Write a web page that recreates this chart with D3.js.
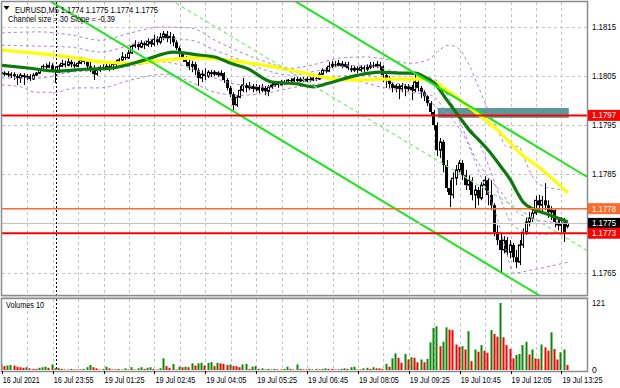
<!DOCTYPE html>
<html><head><meta charset="utf-8">
<script src="https://cdn.jsdelivr.net/npm/d3@7"></script>
<style>html,body{margin:0;padding:0;background:#fff;}svg{display:block;}</style>
</head><body>
<svg id="chart" width="620" height="388"></svg>
<script>
// ================= DATA =================
const symbol = "EURUSD,M5";
const headerValues = ["1.1774", "1.1775", "1.1774", "1.1775"];
const channelInfo = "Channel size = 30 Slope = -0.39";
const volumeTitle = "Volumes 10";
const timeLabels = ["16 Jul 2021","16 Jul 23:55","19 Jul 01:25","19 Jul 02:45","19 Jul 04:05","19 Jul 05:25","19 Jul 06:45","19 Jul 08:05","19 Jul 09:25","19 Jul 10:45","19 Jul 12:05","19 Jul 13:25"];
const timeLabelBars = [0,16,32,48,64,80,96,112,128,144,160,176];
const gridBarStep = 8;
const separatorBar = 17;
const priceTicks = [1.1815, 1.1805, 1.1795, 1.1785, 1.1765];
const gridPrices = [1.1815, 1.1805, 1.1795, 1.1785, 1.1775, 1.1765];
const volumeTicks = [121, 0];

const open = [
1.18058,1.18054,1.18056,1.18052,1.18054,1.18050,1.18046,1.18052,1.18048,1.18050,
1.18044,1.18052,1.18056,1.18062,1.18070,1.18068,1.18072,1.18062,1.18058,1.18070,
1.18076,1.18072,1.18079,1.18074,1.18070,1.18076,1.18083,1.18079,1.18070,1.18066,
1.18054,1.18062,1.18068,1.18066,1.18070,1.18066,1.18074,1.18076,1.18083,1.18089,
1.18087,1.18097,1.18111,1.18115,1.18109,1.18117,1.18113,1.18121,1.18115,1.18125,
1.18119,1.18129,1.18136,1.18127,1.18131,1.18119,1.18107,1.18095,1.18087,1.18079,
1.18070,1.18074,1.18062,1.18046,1.18054,1.18050,1.18058,1.18054,1.18058,1.18052,
1.18056,1.18042,1.18026,1.18013,1.17991,1.18007,1.18021,1.18032,1.18026,1.18030,
1.18024,1.18028,1.18021,1.18026,1.18019,1.18028,1.18032,1.18036,1.18032,1.18038,
1.18036,1.18042,1.18040,1.18044,1.18040,1.18044,1.18040,1.18044,1.18042,1.18046,
1.18044,1.18054,1.18062,1.18060,1.18070,1.18074,1.18072,1.18076,1.18070,1.18074,
1.18066,1.18062,1.18066,1.18062,1.18068,1.18064,1.18068,1.18072,1.18070,1.18074,
1.18070,1.18052,1.18046,1.18034,1.18026,1.18030,1.18024,1.18030,1.18024,1.18028,
1.18021,1.18038,1.18026,1.18017,1.18009,1.17995,1.17977,1.17950,1.17899,1.17916,
1.17869,1.17822,1.17808,1.17842,1.17859,1.17873,1.17848,1.17828,1.17838,1.17808,
1.17818,1.17801,1.17828,1.17838,1.17808,1.17787,1.17732,1.17716,1.17696,1.17716,
1.17691,1.17706,1.17681,1.17671,1.17706,1.17732,1.17753,1.17761,1.17771,1.17797,
1.17787,1.17797,1.17787,1.17773,1.17777,1.17753,1.17746,1.17757,1.17744];
const high = [
1.18062,1.18060,1.18060,1.18058,1.18058,1.18054,1.18056,1.18056,1.18054,1.18054,
1.18056,1.18058,1.18066,1.18074,1.18076,1.18079,1.18076,1.18070,1.18074,1.18083,
1.18081,1.18087,1.18083,1.18079,1.18081,1.18089,1.18087,1.18083,1.18079,1.18072,
1.18066,1.18072,1.18074,1.18076,1.18074,1.18079,1.18083,1.18087,1.18099,1.18095,
1.18103,1.18115,1.18123,1.18119,1.18123,1.18121,1.18127,1.18125,1.18134,1.18131,
1.18138,1.18142,1.18142,1.18140,1.18136,1.18123,1.18111,1.18099,1.18091,1.18083,
1.18081,1.18079,1.18066,1.18062,1.18066,1.18062,1.18062,1.18062,1.18060,1.18062,
1.18058,1.18046,1.18030,1.18017,1.18011,1.18030,1.18046,1.18036,1.18038,1.18034,
1.18034,1.18032,1.18034,1.18030,1.18032,1.18038,1.18040,1.18040,1.18042,1.18042,
1.18044,1.18046,1.18048,1.18048,1.18048,1.18048,1.18048,1.18048,1.18050,1.18050,
1.18058,1.18066,1.18068,1.18079,1.18081,1.18081,1.18083,1.18081,1.18079,1.18079,
1.18072,1.18070,1.18070,1.18072,1.18072,1.18074,1.18079,1.18079,1.18081,1.18079,
1.18072,1.18058,1.18050,1.18038,1.18034,1.18034,1.18036,1.18034,1.18034,1.18032,
1.18054,1.18042,1.18030,1.18021,1.18011,1.17999,1.17981,1.17956,1.17924,1.17920,
1.17879,1.17838,1.17854,1.17869,1.17879,1.17879,1.17859,1.17848,1.17844,1.17828,
1.17824,1.17834,1.17846,1.17842,1.17838,1.17791,1.17746,1.17732,1.17724,1.17722,
1.17716,1.17710,1.17696,1.17716,1.17740,1.17761,1.17773,1.17781,1.17806,1.17808,
1.17806,1.17832,1.17797,1.17785,1.17781,1.17761,1.17763,1.17761,1.17752];
const low = [
1.18050,1.18050,1.18048,1.18046,1.18042,1.18032,1.18036,1.18032,1.18042,1.18040,
1.18042,1.18050,1.18054,1.18060,1.18064,1.18066,1.18058,1.18036,1.18056,1.18068,
1.18068,1.18070,1.18068,1.18066,1.18068,1.18074,1.18074,1.18066,1.18058,1.18042,
1.18050,1.18058,1.18062,1.18062,1.18060,1.18062,1.18070,1.18074,1.18081,1.18083,
1.18085,1.18095,1.18107,1.18103,1.18107,1.18105,1.18109,1.18109,1.18111,1.18113,
1.18115,1.18123,1.18119,1.18115,1.18111,1.18103,1.18089,1.18079,1.18070,1.18062,
1.18058,1.18052,1.18030,1.18038,1.18042,1.18046,1.18048,1.18050,1.18048,1.18050,
1.18036,1.18021,1.18007,1.17981,1.17987,1.18005,1.18017,1.18017,1.18021,1.18017,
1.18019,1.18015,1.18017,1.18011,1.18009,1.18024,1.18028,1.18026,1.18030,1.18032,
1.18034,1.18036,1.18038,1.18038,1.18038,1.18038,1.18038,1.18038,1.18040,1.18040,
1.18042,1.18052,1.18056,1.18058,1.18066,1.18068,1.18070,1.18066,1.18068,1.18062,
1.18058,1.18058,1.18056,1.18058,1.18058,1.18060,1.18064,1.18066,1.18066,1.18062,
1.18038,1.18026,1.18026,1.18017,1.18017,1.18003,1.18017,1.18009,1.18019,1.18001,
1.18017,1.18019,1.18005,1.17999,1.17989,1.17969,1.17940,1.17887,1.17883,1.17854,
1.17814,1.17783,1.17801,1.17828,1.17854,1.17838,1.17818,1.17818,1.17797,1.17781,
1.17787,1.17797,1.17818,1.17787,1.17777,1.17724,1.17706,1.17651,1.17689,1.17683,
1.17679,1.17671,1.17659,1.17665,1.17700,1.17726,1.17744,1.17753,1.17767,1.17777,
1.17773,1.17777,1.17761,1.17757,1.17742,1.17736,1.17732,1.17712,1.17740];
const close = [
1.18054,1.18056,1.18052,1.18054,1.18050,1.18046,1.18052,1.18048,1.18050,1.18044,
1.18052,1.18056,1.18062,1.18070,1.18068,1.18072,1.18062,1.18058,1.18070,1.18076,
1.18072,1.18079,1.18074,1.18070,1.18076,1.18083,1.18079,1.18070,1.18066,1.18054,
1.18062,1.18068,1.18066,1.18070,1.18066,1.18074,1.18076,1.18083,1.18089,1.18087,
1.18097,1.18111,1.18115,1.18109,1.18117,1.18113,1.18121,1.18115,1.18125,1.18119,
1.18129,1.18136,1.18127,1.18131,1.18119,1.18107,1.18095,1.18087,1.18079,1.18070,
1.18074,1.18062,1.18046,1.18054,1.18050,1.18058,1.18054,1.18058,1.18052,1.18056,
1.18042,1.18026,1.18013,1.17991,1.18007,1.18021,1.18032,1.18026,1.18030,1.18024,
1.18028,1.18021,1.18026,1.18019,1.18028,1.18032,1.18036,1.18032,1.18038,1.18036,
1.18042,1.18040,1.18044,1.18040,1.18044,1.18040,1.18044,1.18042,1.18046,1.18044,
1.18054,1.18062,1.18060,1.18070,1.18074,1.18072,1.18076,1.18070,1.18074,1.18066,
1.18062,1.18066,1.18062,1.18068,1.18064,1.18068,1.18072,1.18070,1.18074,1.18070,
1.18052,1.18046,1.18034,1.18026,1.18030,1.18024,1.18030,1.18024,1.18028,1.18021,
1.18038,1.18026,1.18017,1.18009,1.17995,1.17977,1.17950,1.17899,1.17916,1.17869,
1.17822,1.17808,1.17842,1.17859,1.17873,1.17848,1.17828,1.17838,1.17808,1.17818,
1.17801,1.17828,1.17838,1.17808,1.17787,1.17732,1.17716,1.17696,1.17716,1.17691,
1.17706,1.17681,1.17671,1.17706,1.17732,1.17753,1.17761,1.17771,1.17797,1.17787,
1.17797,1.17787,1.17773,1.17777,1.17753,1.17746,1.17757,1.17732,1.17750];
const volume = [
11,7,8,9,8,6,5,4,5,3,
2,2,4,5,6,4,10,3,4,2,
1,1,2,1,1,1,2,5,9,5,
3,1,2,6,3,1,1,2,1,3,
1,5,1,3,5,2,4,5,2,1,
3,21,7,4,11,1,6,5,6,5,
12,8,12,13,8,13,14,7,13,12,
11,9,10,7,7,5,10,11,2,6,
7,2,3,1,2,1,2,1,1,2,
6,2,1,10,2,1,1,2,1,2,
1,2,3,2,2,1,1,2,3,2,
5,6,1,1,3,4,2,5,3,3,
2,11,6,21,30,22,13,29,19,23,
22,14,19,14,20,50,76,79,43,51,
77,73,72,46,42,43,37,70,16,37,
33,45,35,31,72,65,60,121,59,45,
38,21,27,29,45,51,28,37,21,20,
46,41,35,68,38,19,32,37,9];
const volumeMax = 121;

// moving averages [bar, price]
const maGreen = [[0,1.18072],[9,1.18066],[17,1.18060],[26,1.18064],[34,1.18066],[45,1.18083],[54,1.18099],[62,1.18093],[67,1.18089],[72,1.18076],[77,1.18066],[85,1.18038],[93,1.18034],[98,1.18028],[103,1.18036],[112,1.18052],[119,1.18058],[125,1.18056],[130,1.18056],[133,1.18048],[136,1.18036],[140,1.18001],[144,1.17966],[147,1.17940],[150,1.17920],[153,1.17899],[157,1.17865],[160,1.17838],[162,1.17814],[164,1.17793],[166.5,1.17781],[170.5,1.17771],[174,1.17763],[178,1.17753]];
const maYellow = [[0,1.18103],[10,1.18097],[21,1.18089],[31,1.18079],[41,1.18076],[52,1.18083],[62,1.18087],[75,1.18079],[91,1.18062],[98,1.18052],[103,1.18046],[112,1.18042],[119,1.18044],[133,1.18044],[136,1.18038],[140,1.18021],[145,1.17997],[151,1.17966],[156,1.17940],[159,1.17920],[163,1.17893],[170,1.17859],[178,1.17812]];
// dashed purple bands [bar, price]
const band1 = [[0,1.18138],[12,1.18140],[21.5,1.18134],[31,1.18123],[40.5,1.18138],[50,1.18150],[59.5,1.18148],[67,1.18123],[75,1.18099],[83,1.18079],[91,1.18066],[98.5,1.18074],[106.5,1.18087],[114.5,1.18089],[122,1.18083],[128.5,1.18076],[134,1.18083],[138,1.18105],[140.5,1.18113],[143.5,1.18107],[147,1.18072],[150,1.18026],[153,1.17981],[156,1.17940],[159,1.17905],[162.5,1.17907],[164.5,1.17879],[167,1.17844],[171,1.17824],[178,1.17818]];
const band2 = [[0,1.18113],[12,1.18111],[21.5,1.18109],[31,1.18099],[40.5,1.18113],[50,1.18127],[59.5,1.18123],[67,1.18103],[75,1.18083],[83,1.18062],[91,1.18052],[98.5,1.18060],[106.5,1.18070],[114.5,1.18072],[122,1.18062],[130,1.18052],[136.5,1.18042],[141,1.18001],[144.5,1.17950],[148.5,1.17889],[153,1.17844],[157,1.17814],[160,1.17787],[163.5,1.17767],[169.5,1.17755],[178,1.17751]];
const band3 = [[0,1.18046],[12,1.18046],[21.5,1.18058],[31,1.18062],[40.5,1.18070],[50,1.18079],[59.5,1.18066],[67,1.18046],[75,1.18032],[83,1.18028],[91,1.18034],[98.5,1.18042],[106.5,1.18050],[114.5,1.18052],[122,1.18038],[130,1.18026],[137,1.17985],[144.5,1.17960],[148.5,1.17934],[153,1.17869],[157,1.17797],[160,1.17753],[165,1.17732],[171,1.17728],[178,1.17732]];
const band4 = [[0,1.18032],[6,1.18028],[10.5,1.18017],[17,1.18017],[23,1.18026],[31,1.18026],[40.5,1.18042],[51.5,1.18054],[59.5,1.18038],[67,1.18017],[75,1.18011],[83,1.18015],[91,1.18026],[100,1.18034],[109.5,1.18042],[119,1.18028],[128.5,1.18017],[135,1.18011],[140.5,1.17971],[146,1.17920],[150.5,1.17848],[155.5,1.17767],[158.5,1.17696],[161,1.17649],[166.5,1.17655],[178,1.17671]];
// regression channel (size 30 pips, slope -0.39 pip/bar) [bar, price]
const channelUpper = [[0,1.18562],[184,1.17845]];
const channelMiddle = [[0,1.18412],[184,1.17695]];
const channelLower = [[0,1.18262],[184,1.17545]];
// horizontal levels and zone
const levelPrices = [1.1797, 1.1778, 1.1773];
const levelLabels = ["1.1797", "1.1778", "1.1773"];
const levelColors = ["#ff0000", "#ff6a2a", "#ff0000"];
const bidPrice = 1.1775;
const bidLabel = "1.1775";
const zoneBars = [137.1, 178.3];
const zonePrices = [1.17985, 1.17965];

// ================= DRAW =================
const svg = d3.select("#chart");
const FONT = "'Liberation Sans', Arial, sans-serif";
const PL = 2, PR = 587, PT = 2, PB = 295, VT = 299, VB = 371;
const x = d3.scaleLinear().domain([0, 184]).range([1.8, 1.8 + 184 * 3.18]);
const y = d3.scaleLinear().domain([1.1765, 1.1815]).range([272.5, 27]);
const yv = d3.scaleLinear().domain([0, volumeMax]).range([370, 303]);
const sn = v => Math.round(v) + 0.5;

function label(g, tx, ty, str, size, width, color) {
  const t = g.append("text").attr("x", tx).attr("y", ty).text(str)
    .attr("font-family", FONT).attr("font-size", size).attr("fill", color || "#000");
  if (width) t.attr("textLength", width).attr("lengthAdjust", "spacingAndGlyphs");
  return t;
}

svg.append("rect").attr("width", 620).attr("height", 388).attr("fill", "#fff");
const defs = svg.append("defs");
defs.append("clipPath").attr("id", "cm").append("rect")
  .attr("x", PL).attr("y", PT).attr("width", PR - PL).attr("height", PB - PT);
defs.append("clipPath").attr("id", "cv").append("rect")
  .attr("x", PL).attr("y", VT).attr("width", PR - PL).attr("height", VB - VT);

const gM = svg.append("g").attr("clip-path", "url(#cm)");
const gV = svg.append("g").attr("clip-path", "url(#cv)");

// grid
const gridBars = d3.range(gridBarStep, 185, gridBarStep);
[gM, gV].forEach((g, k) => {
  g.selectAll("line.vg").data(gridBars).join("line")
    .attr("x1", d => sn(x(d))).attr("x2", d => sn(x(d)))
    .attr("y1", k ? VT : PT).attr("y2", k ? VB : PB)
    .attr("stroke", "#c4c4c4").attr("stroke-width", 1).attr("stroke-dasharray", "3,3");
});
gM.selectAll("line.hg").data(gridPrices).join("line")
  .attr("x1", PL).attr("x2", PR).attr("y1", d => sn(y(d))).attr("y2", d => sn(y(d)))
  .attr("stroke", "#c4c4c4").attr("stroke-width", 1).attr("stroke-dasharray", "3,3");

// period separator
[[PT, PB], [VT, VB]].forEach(r => {
  svg.append("line").attr("x1", sn(x(separatorBar))).attr("x2", sn(x(separatorBar)))
    .attr("y1", r[0]).attr("y2", r[1]).attr("stroke", "#000").attr("stroke-width", 1)
    .attr("stroke-dasharray", "2,2");
});

// zone
gM.append("rect")
  .attr("x", x(zoneBars[0])).attr("width", x(zoneBars[1]) - x(zoneBars[0]))
  .attr("y", y(zonePrices[0])).attr("height", y(zonePrices[1]) - y(zonePrices[0]))
  .attr("fill", "#5b9999");

// candles
const bars = d3.range(open.length);
gM.selectAll("line.wick").data(bars).join("line")
  .attr("x1", i => sn(x(i) - 0.5)).attr("x2", i => sn(x(i) - 0.5))
  .attr("y1", i => y(high[i])).attr("y2", i => y(low[i]))
  .attr("stroke", "#000").attr("stroke-width", 1);
gM.selectAll("rect.body").data(bars).join("rect")
  .attr("x", i => close[i] >= open[i] ? Math.round(x(i)) - 1.5 : Math.round(x(i)) - 2)
  .attr("width", i => close[i] >= open[i] ? 2 : 3)
  .attr("y", i => y(Math.max(open[i], close[i])))
  .attr("height", i => Math.max(1, Math.abs(y(open[i]) - y(close[i]))))
  .attr("fill", i => close[i] >= open[i] ? "#fff" : "#000")
  .attr("stroke", i => close[i] >= open[i] ? "#000" : "none")
  .attr("stroke-width", 1);

// bands
const lineGen = d3.line().x(d => x(d[0])).y(d => y(d[1])).curve(d3.curveMonotoneX);
[band1, band2, band3, band4].forEach(b => {
  gM.append("path").attr("d", lineGen(b)).attr("fill", "none")
    .attr("stroke", "#b07fe2").attr("stroke-width", 1).attr("stroke-dasharray", "3,3");
});
// moving averages
gM.append("path").attr("d", lineGen(maYellow)).attr("fill", "none")
  .attr("stroke", "#ffff00").attr("stroke-width", 3.2).attr("stroke-linejoin", "round");
gM.append("path").attr("d", lineGen(maGreen)).attr("fill", "none")
  .attr("stroke", "#0b7a0b").attr("stroke-width", 3.2).attr("stroke-linejoin", "round");

// channel
const straight = d3.line().x(d => x(d[0])).y(d => y(d[1]));
gM.append("path").attr("d", straight(channelMiddle)).attr("stroke", "#80e880")
  .attr("stroke-width", 1.2).attr("stroke-dasharray", "4,3").attr("fill", "none");
[channelUpper, channelLower].forEach(c => {
  gM.append("path").attr("d", straight(c)).attr("stroke", "#1ee61e")
    .attr("stroke-width", 2).attr("fill", "none");
});

// levels
gM.append("line").attr("x1", PL).attr("x2", PR).attr("y1", y(bidPrice)).attr("y2", y(bidPrice))
  .attr("stroke", "#c9bdbd").attr("stroke-width", 1);
levelPrices.forEach((p, k) => {
  gM.append("line").attr("x1", PL).attr("x2", PR).attr("y1", y(p)).attr("y2", y(p))
    .attr("stroke", levelColors[k]).attr("stroke-width", k === 1 ? 1.5 : 2);
});

// volumes
gV.selectAll("rect.vol").data(bars).join("rect")
  .attr("x", i => Math.round(x(i)) - 1.5).attr("width", 2)
  .attr("y", i => yv(volume[i])).attr("height", i => yv(0) - yv(volume[i]))
  .attr("fill", i => (i === 0 || volume[i] > volume[i - 1]) ? "#0a8a0a" : "#ff0000");

// frames
svg.append("rect").attr("x", PL - 0.5).attr("y", PT - 0.5).attr("width", PR - PL + 1).attr("height", PB - PT + 1)
  .attr("fill", "none").attr("stroke", "#8c8c8c").attr("stroke-width", 1.5);
svg.append("rect").attr("x", PL - 0.5).attr("y", PB + 1).attr("width", PR - PL + 1).attr("height", VT - PB - 2)
  .attr("fill", "#d0d0d0");
svg.append("rect").attr("x", PL - 0.5).attr("y", VT - 0.5).attr("width", PR - PL + 1).attr("height", VB - VT + 1)
  .attr("fill", "none").attr("stroke", "#8c8c8c").attr("stroke-width", 1.5);

// price axis labels
priceTicks.forEach(p => label(svg, 592, y(p) + 3, p.toFixed(4), 8.5, 24));
const tags = [
  {p: levelPrices[0], t: levelLabels[0], c: levelColors[0]},
  {p: levelPrices[1], t: levelLabels[1], c: levelColors[1]},
  {p: bidPrice, t: bidLabel, c: "#000"},
  {p: levelPrices[2], t: levelLabels[2], c: levelColors[2]}
];
tags.forEach(d => {
  svg.append("rect").attr("x", 588).attr("y", y(d.p) - 5.5).attr("width", 32).attr("height", 11).attr("fill", d.c);
  label(svg, 592, y(d.p) + 3, d.t, 8.5, 24, "#fff");
});
// volume axis
volumeTicks.forEach(v => label(svg, 592, yv(v) + 3, String(v), 8.5, v > 99 ? 13 : 0));

// time axis
svg.selectAll("line.tt").data(timeLabelBars).join("line")
  .attr("x1", d => sn(x(d))).attr("x2", d => sn(x(d))).attr("y1", VB).attr("y2", VB + 3)
  .attr("stroke", "#000").attr("stroke-width", 1);
timeLabels.forEach((t, k) => label(svg, x(timeLabelBars[k]) + 1, 383, t, 8.5, k === 0 ? 37 : 40));

// header
svg.append("path").attr("d", "M3.5,6 L9.5,6 L6.5,10 Z").attr("fill", "#000");
label(svg, 15, 12.5, symbol + "  " + headerValues.join(" "), 9, 143);
label(svg, 8, 22, channelInfo, 9, 107);
label(svg, 6, 308, volumeTitle, 8.5, 38);
</script>
</body></html>
